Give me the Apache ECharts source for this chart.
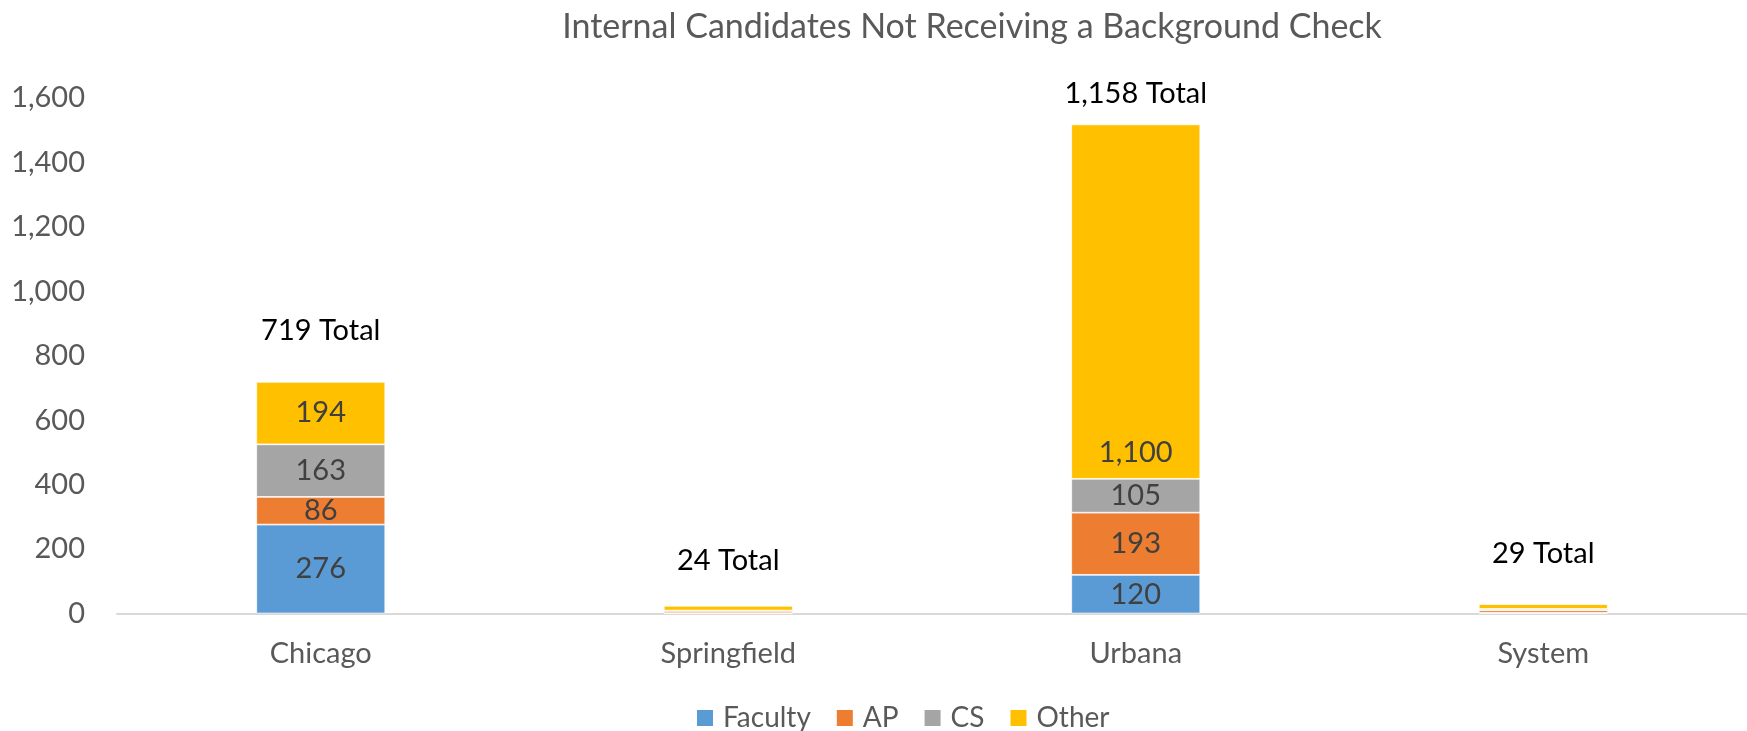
<!DOCTYPE html>
<html>
<head>
<meta charset="utf-8">
<script src="https://cdn.jsdelivr.net/npm/echarts@6/dist/echarts.min.js"></script>
<style>
  html, body { margin: 0; padding: 0; background: #fff; }
  #chart { width: 1747px; height: 731px; }
</style>
</head>
<body>
<div id="chart"></div>
<script>
// Campuses and the four employee groups stacked on each bar
const categories = ['Chicago', 'Springfield', 'Urbana', 'System'];
const faculty = [276, 1, 120, 2];
const ap = [86, 7, 193, 8];
const cs = [163, 1, 105, 4];
const other = [194, 15, 1100, 15];
// Totals written above each bar
const totals = [719, 24, 1158, 29];
// Which bars carry segment value labels
const showSegmentLabels = [true, false, true, false];
const yTicks = { min: 0, max: 1600, interval: 200 };

const FONT = 'Lato, "Open Sans", sans-serif';
const fmt = v => v.toLocaleString('en-US');

function segmentData(values) {
  return values.map((v, i) => ({
    value: v,
    label: { show: showSegmentLabels[i], position: 'inside' }
  }));
}

// Distance of the "Total" text above each bar top
const totalDistance = [37, 31, 16, 36];

// The large Urbana "Other" value sits near the base of its segment
const otherData = other.map((v, i) => ({
  value: v,
  label: {
    show: showSegmentLabels[i],
    position: i === 2 ? 'insideBottom' : 'inside',
    distance: 12
  }
}));

const chart = echarts.init(document.getElementById('chart'));

const segLabel = {
  color: '#404040',
  fontFamily: FONT,
  fontSize: 29,
  formatter: p => fmt(p.value)
};

const baseSeries = (name, color, data) => ({
  name,
  type: 'bar',
  stack: 'total',
  barWidth: 129,
  data,
  itemStyle: { color, borderColor: '#ffffff', borderWidth: 0.75 },
  label: segLabel,
  emphasis: { disabled: true }
});

chart.setOption({
  animation: false,
  backgroundColor: '#ffffff',
  title: {
    text: 'Internal Candidates Not Receiving a Background Check',
    left: 967,
    textAlign: 'center',
    top: 5,
    textStyle: { color: '#595959', fontFamily: FONT, fontSize: 34, fontWeight: 'normal' }
  },
  legend: {
    data: ['Faculty', 'AP', 'CS', 'Other'],
    left: 695,
    top: 704,
    padding: 0,
    icon: 'rect',
    itemWidth: 18,
    itemHeight: 18,
    itemGap: 24,
    textStyle: { color: '#595959', fontFamily: FONT, fontSize: 28, lineHeight: 28, padding: [0, 0, 0, 4] }
  },
  grid: { left: 117, top: 98, width: 1646, height: 515.5, containLabel: false },
  xAxis: {
    type: 'category',
    data: categories,
    axisLine: { lineStyle: { color: '#d9d9d9', width: 2 } },
    axisTick: { show: false },
    axisLabel: { color: '#595959', fontFamily: FONT, fontSize: 29, margin: 26 }
  },
  yAxis: {
    type: 'value',
    min: yTicks.min,
    max: yTicks.max,
    interval: yTicks.interval,
    splitLine: { show: false },
    axisLine: { show: false },
    axisTick: { show: false },
    axisLabel: { color: '#595959', fontFamily: FONT, fontSize: 29, margin: 32, formatter: v => fmt(v) }
  },
  series: [
    baseSeries('Faculty', '#5B9BD5', segmentData(faculty)),
    baseSeries('AP', '#ED7D31', segmentData(ap)),
    baseSeries('CS', '#A5A5A5', segmentData(cs)),
    baseSeries('Other', '#FFC000', otherData),
    // Total annotations sit on an empty segment at the top of each stack
    {
      name: 'Total',
      type: 'bar',
      stack: 'total',
      barWidth: 129,
      data: totals.map((t, i) => ({
        value: 0,
        label: { distance: totalDistance[i] }
      })),
      itemStyle: { color: 'transparent' },
      label: {
        show: true,
        position: 'top',
        color: '#000000',
        fontFamily: FONT,
        fontSize: 29,
        formatter: p => fmt(totals[p.dataIndex]) + ' Total'
      },
      emphasis: { disabled: true }
    }
  ]
});
</script>
</body>
</html>
